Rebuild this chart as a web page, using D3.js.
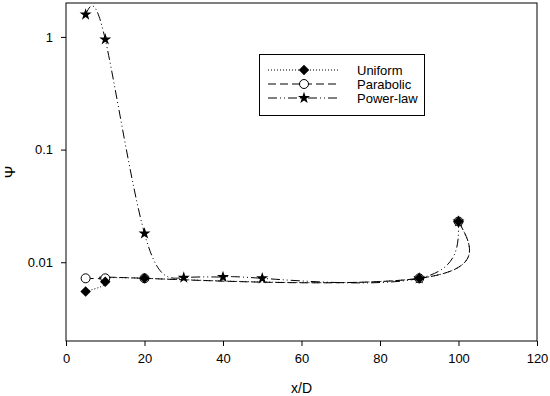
<!DOCTYPE html>
<html>
<head>
<meta charset="utf-8">
<script src="https://cdn.jsdelivr.net/npm/d3@7"></script>
<style>
body { margin: 0; background: #fff; }
text { font-family: "Liberation Sans", Arial, sans-serif; }
</style>
</head>
<body>
<script>
// data
var uniformX = [5, 10, 20, 90, 100];
var uniformY = [0.0055, 0.0067, 0.0072, 0.0072, 0.023];
var parabolicX = [5, 10, 20, 90, 100];
var parabolicY = [0.0072, 0.0072, 0.0072, 0.0072, 0.023];
var powerX = [5, 10, 20, 30, 40, 50, 90, 100];
var powerY = [1.58, 0.95, 0.018, 0.0073, 0.0074, 0.0072, 0.0072, 0.023];
var xTicks = [0, 20, 40, 60, 80, 100, 120];
var yTicks = [1, 0.1, 0.01];
var names = ["Uniform", "Parabolic", "Power-law"];

var width = 550, height = 396;
var plotL = 66, plotR = 537, plotT = 3, plotB = 341;

var svg = d3.select("body").append("svg")
    .attr("width", width)
    .attr("height", height);

var x = d3.scaleLinear().domain([0, 120]).range([plotL, plotR]);
var y = d3.scaleLog().domain([0.002, 2]).range([plotB, plotT]);

// frame
svg.append("rect")
    .attr("x", plotL).attr("y", plotT)
    .attr("width", plotR - plotL).attr("height", plotB - plotT)
    .attr("fill", "none").attr("stroke", "#000").attr("stroke-width", 1);

var xAxis = svg.append("g")
    .attr("transform", "translate(0," + plotB + ")")
    .call(d3.axisBottom(x).tickValues(xTicks).tickSize(5).tickPadding(8).tickFormat(d3.format("d")));
var yAxis = svg.append("g")
    .attr("transform", "translate(" + plotL + ",0)")
    .call(d3.axisLeft(y).tickValues(yTicks).tickSize(5).tickPadding(8).tickFormat(function(d) { return String(d); }));
[xAxis, yAxis].forEach(function(a) {
    a.select(".domain").remove();
    a.selectAll("text").attr("font-size", 13).attr("fill", "#000")
        .attr("font-family", "Liberation Sans, Arial, sans-serif");
    a.selectAll("line").attr("stroke", "#000");
});

svg.append("text")
    .attr("x", (plotL + plotR) / 2).attr("y", 393)
    .attr("text-anchor", "middle").attr("font-size", 14)
    .text("x/D");
svg.append("text")
    .attr("transform", "translate(15," + ((plotT + plotB) / 2) + ") rotate(-90)")
    .attr("text-anchor", "middle").attr("font-size", 15)
    .text("Ψ");

var line = d3.line()
    .x(function(d) { return x(d[0]); })
    .y(function(d) { return y(d[1]); })
    .curve(d3.curveNatural);

var series = [
    {xs: uniformX, ys: uniformY, dash: "1,2", marker: "diamond"},
    {xs: parabolicX, ys: parabolicY, dash: "8,4", marker: "circle"},
    {xs: powerX, ys: powerY, dash: "9,3,1,3,1,3", marker: "star"}
];

function drawMarker(g, type, cx, cy) {
    if (type == "diamond") {
        g.append("path")
            .attr("d", d3.symbol().type(d3.symbolDiamond2).size(70))
            .attr("transform", "translate(" + cx + "," + cy + ")")
            .attr("fill", "#000");
    } else if (type == "circle") {
        g.append("circle")
            .attr("cx", cx).attr("cy", cy).attr("r", 4.5)
            .attr("fill", "#fff").attr("stroke", "#000").attr("stroke-width", 1);
    } else {
        g.append("path")
            .attr("d", d3.symbol().type(d3.symbolStar).size(45))
            .attr("transform", "translate(" + cx + "," + cy + ")")
            .attr("fill", "#000");
    }
}

series.forEach(function(s) {
    var pts = s.xs.map(function(v, i) { return [v, s.ys[i]]; });
    svg.append("path")
        .datum(pts)
        .attr("d", line)
        .attr("fill", "none")
        .attr("stroke", "#000")
        .attr("stroke-width", 1)
        .attr("stroke-dasharray", s.dash);
});

// markers: stars first, then circles, diamonds on top
[2, 1, 0].forEach(function(k) {
    var s = series[k];
    var g = svg.append("g");
    s.xs.forEach(function(v, i) {
        drawMarker(g, s.marker, x(v), y(s.ys[i]));
    });
});

// legend
var lg = svg.append("g");
lg.append("rect")
    .attr("x", 259.5).attr("y", 54.5)
    .attr("width", 165).attr("height", 61)
    .attr("fill", "#fff").attr("stroke", "#000").attr("stroke-width", 1);
var rowY = [70, 84, 98];
series.forEach(function(s, i) {
    lg.append("line")
        .attr("x1", 268).attr("x2", 338)
        .attr("y1", rowY[i]).attr("y2", rowY[i])
        .attr("stroke", "#000").attr("stroke-width", 1)
        .attr("stroke-dasharray", s.dash);
    drawMarker(lg, s.marker, 304, rowY[i]);
    lg.append("text")
        .attr("x", 357).attr("y", rowY[i] + 5)
        .attr("font-size", 13)
        .text(names[i]);
});
</script>
</body>
</html>
